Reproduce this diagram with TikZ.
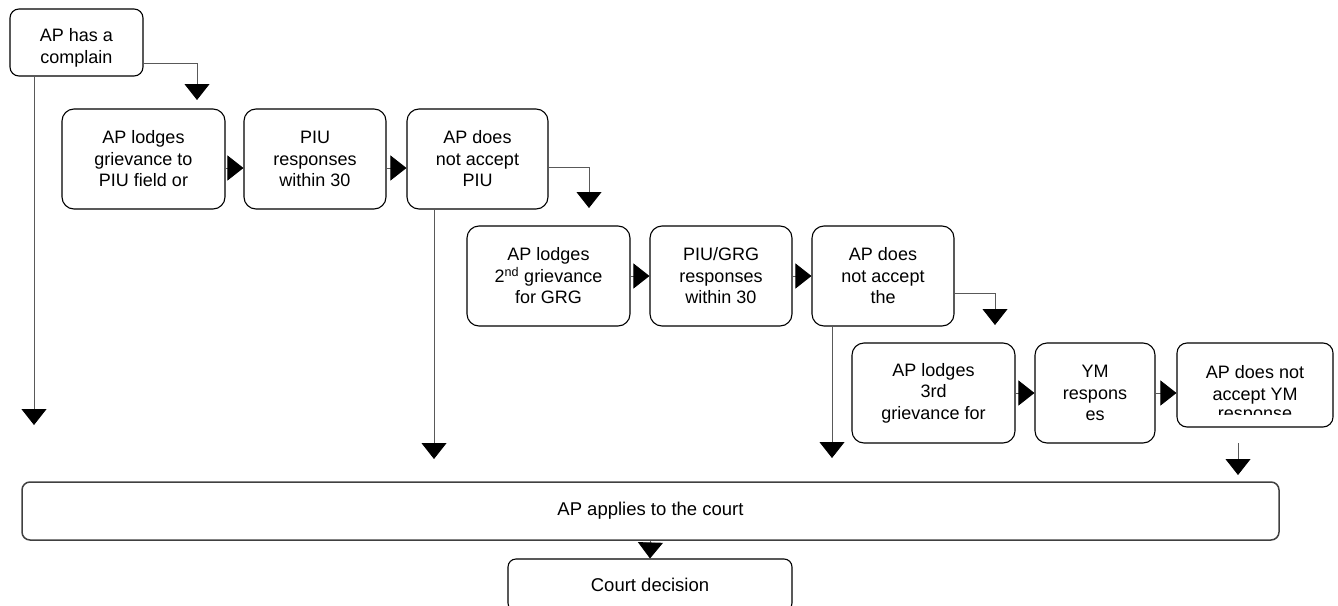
\documentclass[tikz,border=0pt]{standalone}
\usepackage{fontspec}
\setmainfont{Liberation Sans}
\usetikzlibrary{arrows.meta}
\tikzset{
  stepbox/.style={draw, line width=1.1pt, rounded corners=12pt, align=center, inner sep=0pt,
    font=\fontsize{18}{21.5}\selectfont},
  courtbox/.style={draw=black!75, line width=1.5pt, rounded corners=8pt, align=center, inner sep=0pt,
    font=\fontsize{18.5}{22}\selectfont},
  flow/.style={draw=black!65, line width=0.8pt, -{Triangle[width=25pt,length=16pt,color=black]}},
}
\begin{document}
\begin{tikzpicture}[x=1pt, y=-1pt]
\useasboundingbox (0,0) rectangle (1338,605);
% first stage
\node[stepbox, rounded corners=9pt, minimum width=133, minimum height=67] (a0) at (76.5, 42.5) {\rule{0pt}{24pt}AP has a\\complain};
\node[stepbox, minimum width=163, minimum height=100] (g1) at (143.5, 159) {AP lodges\\grievance to\\PIU field or};
\node[stepbox, minimum width=142, minimum height=100] (g2) at (315, 159) {PIU\\responses\\within 30};
\node[stepbox, minimum width=141, minimum height=100] (g3) at (477.5, 159) {AP does\\not accept\\PIU};
% second stage
\node[stepbox, minimum width=163, minimum height=100] (g4) at (548.5, 276) {AP lodges\\2\textsuperscript{nd} grievance\\for GRG};
\node[stepbox, minimum width=142, minimum height=100] (g5) at (721, 276) {PIU/GRG\\responses\\within 30};
\node[stepbox, minimum width=142, minimum height=100] (g6) at (883, 276) {AP does\\not accept\\the};
% third stage
\node[stepbox, minimum width=163, minimum height=100] (g7) at (933.5, 393) {AP lodges\\3rd\\grievance for};
\node[stepbox, minimum width=120, minimum height=100] (g8) at (1095, 393) {YM\\respons\\es};
\node[stepbox, rounded corners=10pt, minimum width=156, minimum height=84] (g9) at (1255, 385) {AP does not\\accept YM};
\begin{scope}
\clip (g9.north west) rectangle ([yshift=13pt]g9.south east);
\node[anchor=base, inner sep=0pt, font=\fontsize{18}{21.5}\selectfont] (g9r) at (1255, 419) {response};
\end{scope}
% court
\node[courtbox, minimum width=1257, minimum height=58] (court) at (650.5, 511) {AP applies to the court};
\node[courtbox, draw=black, line width=1.1pt, minimum width=284, minimum height=52] (dec) at (650, 585) {Court decision};
% free ends
\coordinate (k0) at (197, 100);
\coordinate (k1) at (34, 425);
\coordinate (k2) at (589, 208);
\coordinate (k3) at (434, 459);
\coordinate (k4) at (995, 325);
\coordinate (k5) at (832, 458);
\coordinate (k6) at (1238, 443);
\coordinate (k7) at (1238, 475);
% connectors
\draw[flow] ([yshift=-20.5pt]a0.east) -| (k0);
\draw[flow] (k1 |- a0.south) -- (k1);
\draw[flow] ([yshift=-9pt]g1.east) -- ([yshift=-9pt]g2.west);
\draw[flow] ([yshift=-9pt]g2.east) -- ([yshift=-9pt]g3.west);
\draw[flow] ([yshift=-8pt]g3.east) -| (k2);
\draw[flow] (k3 |- g3.south) -- (k3);
\draw[flow] (g4.east) -- (g5.west);
\draw[flow] (g5.east) -- (g6.west);
\draw[flow] ([yshift=-17pt]g6.east) -| (k4);
\draw[flow] (k5 |- g6.south) -- (k5);
\draw[flow] (g7.east) -- (g8.west);
\draw[flow] (g8.east) -- (g9.west |- g8.east);
\draw[flow] (k6) -- (k7);
\draw[flow] (court.south) -- (dec.north);
\end{tikzpicture}
\end{document}
